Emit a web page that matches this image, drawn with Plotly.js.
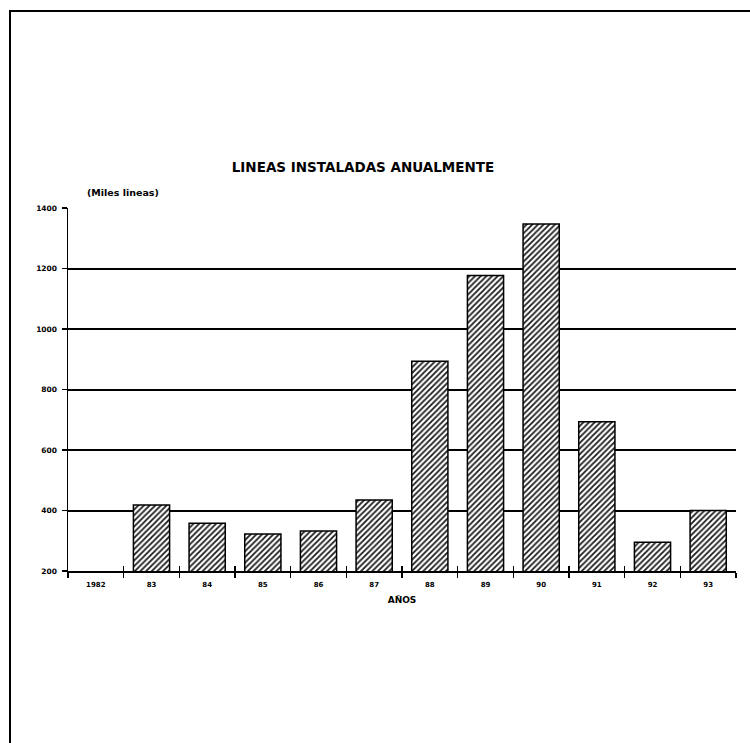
<!DOCTYPE html>
<html>
<head>
<meta charset="utf-8">
<script src="https://cdn.plot.ly/plotly-3.0.1.min.js"></script>
<style>
  html, body { margin: 0; padding: 0; background: #fff; }
  #wrap { position: relative; width: 750px; height: 743px; overflow: hidden; }
  #chart { position: absolute; left: 0; top: 0; width: 750px; height: 743px; }
  /* page frame: top and left rule */
  #frame { position: absolute; left: 9px; top: 10px; width: 745px; height: 740px;
           border-top: 2px solid #000; border-left: 2px solid #000; pointer-events: none; }
</style>
</head>
<body>
<div id="wrap">
  <div id="chart"></div>
  <div id="frame"></div>
</div>
<script>
// Lines installed per year (thousands)
const years = ['1982', '83', '84', '85', '86', '87', '88', '89', '90', '91', '92', '93'];
const installed = [null, 418, 358, 322, 332, 435, 893, 1177, 1347, 693, 295, 400];
const yTicks = [200, 400, 600, 800, 1000, 1200, 1400];

const fontFamily = 'DejaVu Sans, Verdana, sans-serif';
const tickFont = { family: fontFamily, size: 7, color: '#000', weight: 'bold' };

// category boundaries on a numeric copy of the x axis (for the upward tick halves)
const idx = years.map((_, i) => i);
const boundaries = idx.map(i => i - 0.5).concat([years.length - 0.5]);

const hatch = {
  color: '#fff',
  line: { color: '#000', width: 1.5 },
  pattern: { shape: '/', size: 4, solidity: 0.45, fgcolor: '#1a1a1a', bgcolor: '#ffffff', fillmode: 'replace' }
};

const data = [
  {
    type: 'bar', x: years, y: installed,
    marker: hatch, hoverinfo: 'x+y', xaxis: 'x', yaxis: 'y'
  },
  {
    type: 'scatter', x: idx, y: idx.map(() => 200), mode: 'none',
    hoverinfo: 'skip', showlegend: false, xaxis: 'x2', yaxis: 'y'
  }
];

const layout = {
  width: 750, height: 743,
  margin: { l: 68, r: 14, t: 208, b: 172 },
  paper_bgcolor: '#fff', plot_bgcolor: '#fff',
  showlegend: false,
  bargap: 0.35,
  title: {
    text: 'LINEAS INSTALADAS ANUALMENTE',
    font: { family: fontFamily, size: 13.5, color: '#000', weight: 'bold' },
    x: 363 / 750, xref: 'container', xanchor: 'center',
    y: 1 - 167 / 743, yref: 'container', yanchor: 'middle'
  },
  xaxis: {
    type: 'category', categoryorder: 'array', categoryarray: years,
    range: [-0.5, years.length - 0.5],
    tickmode: 'linear', tick0: 0, dtick: 1,
    tickson: 'boundaries', ticks: 'outside', ticklen: 5, tickwidth: 1.6, tickcolor: '#000',
    showline: true, linecolor: '#000', linewidth: 2,
    showgrid: false, zeroline: false,
    tickfont: tickFont, ticklabelstandoff: 6,
    title: { text: 'AÑOS', font: { family: fontFamily, size: 9, color: '#000', weight: 'bold' }, standoff: 8 },
    fixedrange: true
  },
  xaxis2: {
    type: 'linear',
    range: [-0.5, years.length - 0.5],
    tickmode: 'array', tickvals: boundaries,
    overlaying: 'x', anchor: 'y', side: 'bottom',
    ticks: 'inside', ticklen: 5, tickwidth: 1.6, tickcolor: '#000',
    showticklabels: false, showline: false, showgrid: false, zeroline: false,
    fixedrange: true
  },
  yaxis: {
    range: [200, 1400],
    tickmode: 'array', tickvals: yTicks, ticktext: yTicks.map(String),
    ticks: 'outside', ticklen: 5, tickwidth: 1.5, tickcolor: '#000',
    showline: true, linecolor: '#000', linewidth: 1.5,
    showgrid: true, gridcolor: '#000', gridwidth: 2,
    zeroline: false,
    tickfont: { family: fontFamily, size: 7.5, color: '#000', weight: 'bold' }, ticklabelstandoff: 3,
    fixedrange: true
  },
  annotations: [
    {
      text: '(Miles lineas)', xref: 'paper', yref: 'paper',
      x: (85 - 68) / (750 - 68 - 14), xanchor: 'left',
      y: 1 + (208 - 192) / 363, yanchor: 'middle',
      showarrow: false,
      font: { family: fontFamily, size: 9.5, color: '#000', weight: 'bold' }
    }
  ]
};

Plotly.newPlot('chart', data, layout, { displayModeBar: false, staticPlot: true });
</script>
</body>
</html>
